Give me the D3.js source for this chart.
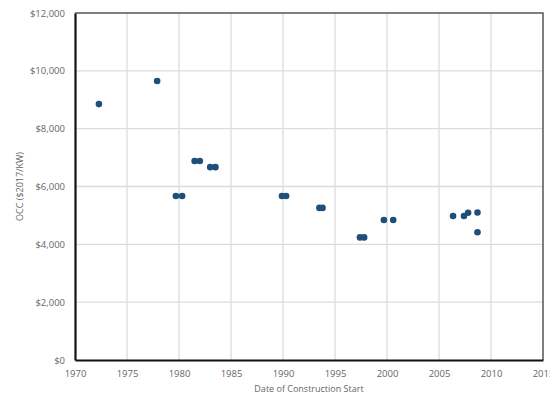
<!DOCTYPE html>
<html>
<head>
<meta charset="utf-8">
<script src="https://cdn.jsdelivr.net/npm/d3@7"></script>
<style>
  body { margin: 0; background: #fff; }
  text { font-family: "Open Sans", "Liberation Sans", sans-serif; }
</style>
</head>
<body>
<div id="chart"></div>
<script>
// construction start year and overnight capital cost ($2017/kW)
const years = [1972.3, 1977.9, 1979.7, 1980.3, 1981.5, 1982.0, 1983.0, 1983.5,
  1989.9, 1990.3, 1993.5, 1993.8, 1997.4, 1997.8, 1999.7, 2000.6,
  2006.35, 2007.4, 2007.8, 2008.7, 2008.7];
const costs = [8850, 9650, 5670, 5670, 6880, 6880, 6670, 6670,
  5670, 5670, 5260, 5260, 4240, 4240, 4840, 4840,
  4980, 4980, 5090, 5100, 4420];
const xTicks = [1970, 1975, 1980, 1985, 1990, 1995, 2000, 2005, 2010, 2015];
const yTicks = [0, 2000, 4000, 6000, 8000, 10000, 12000];

const width = 550, height = 397;
const margin = { top: 13, right: 7, bottom: 37, left: 75 };
const w = width - margin.left - margin.right;
const h = height - margin.top - margin.bottom;

const svg = d3.select('#chart').append('svg')
  .attr('width', width)
  .attr('height', height);

const g = svg.append('g')
  .attr('transform', 'translate(' + margin.left + ',' + margin.top + ')');

const x = d3.scaleLinear().domain([1970, 2015]).range([0, w]);
const y = d3.scaleLinear().domain([0, 12000]).range([h, 0]);

// gridlines
g.append('g').selectAll('line')
  .data(xTicks.slice(1, -1))
  .enter().append('line')
  .attr('x1', d => x(d)).attr('x2', d => x(d))
  .attr('y1', 0).attr('y2', h)
  .attr('stroke', '#dcdcdc').attr('stroke-width', 1.3);

g.append('g').selectAll('line')
  .data(yTicks.slice(1, -1))
  .enter().append('line')
  .attr('x1', 0).attr('x2', w)
  .attr('y1', d => y(d)).attr('y2', d => y(d))
  .attr('stroke', '#dcdcdc').attr('stroke-width', 1.3);

// top and right frame
g.append('path')
  .attr('d', 'M0,0H' + w + 'V' + h)
  .attr('fill', 'none')
  .attr('stroke', '#555').attr('stroke-width', 1.5);

// axes
const xAxis = d3.axisBottom(x).tickValues(xTicks).tickFormat(d3.format('d')).tickSize(0).tickPadding(10);
const yAxis = d3.axisLeft(y).tickValues(yTicks).tickFormat(d => '$' + d3.format(',')(d)).tickSize(0).tickPadding(10);

const gx = g.append('g')
  .attr('transform', 'translate(0,' + h + ')')
  .call(xAxis);
const gy = g.append('g').call(yAxis);

[gx, gy].forEach(a => {
  a.select('.domain').attr('stroke', '#111').attr('stroke-width', 2.2);
  a.selectAll('text').attr('fill', '#666').style('font-size', '9.5px');
});

// points
g.append('g').selectAll('circle')
  .data(years)
  .enter().append('circle')
  .attr('cx', (d, i) => x(d))
  .attr('cy', (d, i) => y(costs[i]))
  .attr('r', 3.3)
  .attr('fill', '#1f4e79');

// axis titles
svg.append('text')
  .attr('x', margin.left + w / 2)
  .attr('y', 392)
  .attr('text-anchor', 'middle')
  .attr('fill', '#666')
  .style('font-size', '9px')
  .text('Date of Construction Start');

svg.append('text')
  .attr('transform', 'translate(23,' + (margin.top + h / 2) + ') rotate(-90)')
  .attr('text-anchor', 'middle')
  .attr('fill', '#666')
  .style('font-size', '9px')
  .text('OCC ($2017/KW)');
</script>
</body>
</html>
